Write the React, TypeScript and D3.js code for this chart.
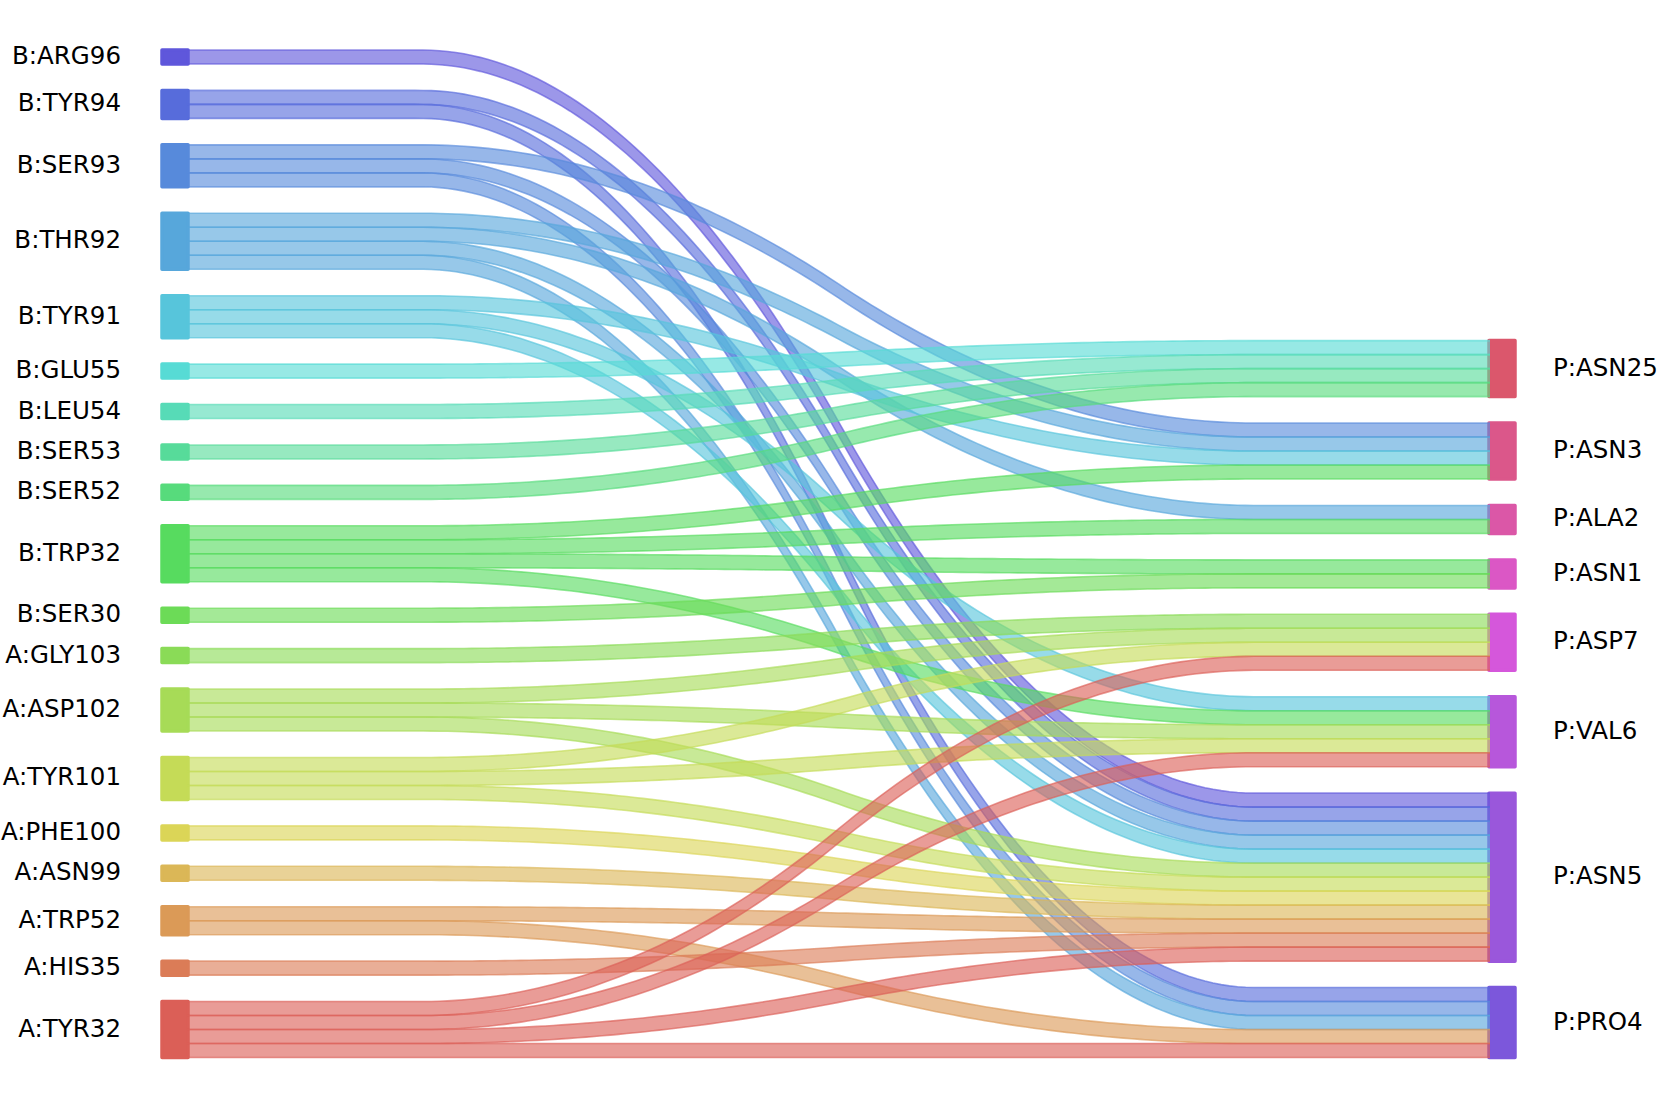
import React from 'react';
import * as d3 from 'd3';

// Left (source) residues, top to bottom
const leftNodes = [
  'B:ARG96', 'B:TYR94', 'B:SER93', 'B:THR92', 'B:TYR91', 'B:GLU55', 'B:LEU54',
  'B:SER53', 'B:SER52', 'B:TRP32', 'B:SER30', 'A:GLY103', 'A:ASP102', 'A:TYR101',
  'A:PHE100', 'A:ASN99', 'A:TRP52', 'A:HIS35', 'A:TYR32',
];
// Right (target) residues, top to bottom
const rightNodes = ['P:ASN25', 'P:ASN3', 'P:ALA2', 'P:ASN1', 'P:ASP7', 'P:VAL6', 'P:ASN5', 'P:PRO4'];

// Contacts (one unit each)
const linkSources = [
  'B:ARG96',
  'B:TYR94', 'B:TYR94',
  'B:SER93', 'B:SER93', 'B:SER93',
  'B:THR92', 'B:THR92', 'B:THR92', 'B:THR92',
  'B:TYR91', 'B:TYR91', 'B:TYR91',
  'B:GLU55', 'B:LEU54', 'B:SER53', 'B:SER52',
  'B:TRP32', 'B:TRP32', 'B:TRP32', 'B:TRP32',
  'B:SER30', 'A:GLY103',
  'A:ASP102', 'A:ASP102', 'A:ASP102',
  'A:TYR101', 'A:TYR101', 'A:TYR101',
  'A:PHE100', 'A:ASN99',
  'A:TRP52', 'A:TRP52',
  'A:HIS35',
  'A:TYR32', 'A:TYR32', 'A:TYR32', 'A:TYR32',
];
const linkTargets = [
  'P:ASN5',
  'P:ASN5', 'P:PRO4',
  'P:ASN3', 'P:ASN5', 'P:PRO4',
  'P:ASN3', 'P:ALA2', 'P:ASN5', 'P:PRO4',
  'P:ASN3', 'P:VAL6', 'P:ASN5',
  'P:ASN25', 'P:ASN25', 'P:ASN25', 'P:ASN25',
  'P:ASN3', 'P:ALA2', 'P:ASN1', 'P:VAL6',
  'P:ASN1', 'P:ASP7',
  'P:ASP7', 'P:VAL6', 'P:ASN5',
  'P:ASP7', 'P:VAL6', 'P:ASN5',
  'P:ASN5', 'P:ASN5',
  'P:ASN5', 'P:PRO4',
  'P:ASN5',
  'P:ASP7', 'P:VAL6', 'P:ASN5', 'P:PRO4',
];
const linkValues = linkSources.map(() => 1);

const W = 1660;
const H = 1108;
const UNIT = 14;
const GAP = 26.42;
const TOP = 50;
const LEFT_X0 = 162;
const LEFT_X1 = 188;
const RIGHT_X0 = 1489;
const RIGHT_X1 = 1515;
const LINK_X0 = 187;
const LINK_X1 = 1490;
const FONT = 24.5;

type NodeBox = { name: string; y0: number; y1: number; color: string };

function layoutColumn(names: string[], totals: Map<string, number>, top: number): NodeBox[] {
  const out: NodeBox[] = [];
  let y = top;
  names.forEach((n) => {
    const h = (totals.get(n) || 0) * UNIT;
    out.push({ name: n, y0: y, y1: y + h, color: '' });
    y += h + GAP;
  });
  return out;
}

export default function App() {
  const srcTot = new Map<string, number>();
  const tgtTot = new Map<string, number>();
  linkSources.forEach((s, i) => srcTot.set(s, (srcTot.get(s) || 0) + linkValues[i]));
  linkTargets.forEach((t, i) => tgtTot.set(t, (tgtTot.get(t) || 0) + linkValues[i]));

  const left = layoutColumn(leftNodes, srcTot, TOP);
  const leftBottom = left[left.length - 1].y1;
  const rightUnits = d3.sum(rightNodes, (n) => tgtTot.get(n) || 0);
  const rightTop = leftBottom - (rightUnits * UNIT + (rightNodes.length - 1) * GAP);
  const right = layoutColumn(rightNodes, tgtTot, rightTop);

  // hls palette (seaborn style), ordered from the bottom of each column
  const paletteOrder = [...leftNodes].reverse().concat([...rightNodes].reverse());
  const nPal = paletteOrder.length;
  const colorOf = new Map<string, string>();
  paletteOrder.forEach((n, i) => {
    const h = ((i / nPal + 0.01) % 1) * 360;
    colorOf.set(n, d3.hsl(h, 0.65, 0.6).formatHex());
  });
  left.forEach((b) => (b.color = colorOf.get(b.name)!));
  right.forEach((b) => (b.color = colorOf.get(b.name)!));

  const leftIdx = new Map(leftNodes.map((n, i) => [n, i]));
  const rightIdx = new Map(rightNodes.map((n, i) => [n, i]));
  const leftBox = new Map(left.map((b) => [b.name, b]));
  const rightBox = new Map(right.map((b) => [b.name, b]));

  const links = linkSources.map((s, i) => ({ s, t: linkTargets[i], v: linkValues[i], i, sy: 0, ty: 0 }));
  // stack at source by target order
  const srcOff = new Map<string, number>();
  [...links]
    .sort((a, b) => leftIdx.get(a.s)! - leftIdx.get(b.s)! || rightIdx.get(a.t)! - rightIdx.get(b.t)!)
    .forEach((l) => {
      const off = srcOff.get(l.s) || 0;
      l.sy = leftBox.get(l.s)!.y0 + off;
      srcOff.set(l.s, off + l.v * UNIT);
    });
  const tgtOff = new Map<string, number>();
  [...links]
    .sort((a, b) => rightIdx.get(a.t)! - rightIdx.get(b.t)! || leftIdx.get(a.s)! - leftIdx.get(b.s)!)
    .forEach((l) => {
      const off = tgtOff.get(l.t) || 0;
      l.ty = rightBox.get(l.t)!.y0 + off;
      tgtOff.set(l.t, off + l.v * UNIT);
    });

  const xScale = d3.scaleLinear().domain([0, 1]).range([LINK_X0, LINK_X1]);
  const tA = 0.18;
  const tB = 0.82;
  const ease = (p: number) => {
    const t = Math.max(0, Math.min(1, (p - tA) / (tB - tA)));
    return t < 0.5 ? 2 * t * t : 1 - 2 * (1 - t) * (1 - t);
  };
  const samples = d3.range(0, 1.0001, 1 / 160);

  const area = d3
    .area<[number, number, number]>()
    .x((d) => d[0])
    .y0((d) => d[1])
    .y1((d) => d[2]);
  const line = d3
    .line<[number, number]>()
    .x((d) => d[0])
    .y((d) => d[1]);

  return (
    <svg
      width={W}
      height={H}
      style={{ position: 'absolute', left: 0, top: 0, background: '#fff' }}
      fontFamily="'DejaVu Sans', sans-serif"
    >
      <g>
        {left.map((b) => (
          <rect
            key={b.name}
            x={LEFT_X0}
            y={b.y0}
            width={LEFT_X1 - LEFT_X0}
            height={b.y1 - b.y0}
            fill={b.color}
            stroke={b.color}
            strokeWidth={3.5}
            strokeLinejoin="round"
          />
        ))}
        {right.map((b) => (
          <rect
            key={b.name}
            x={RIGHT_X0}
            y={b.y0}
            width={RIGHT_X1 - RIGHT_X0}
            height={b.y1 - b.y0}
            fill={b.color}
            stroke={b.color}
            strokeWidth={3.5}
            strokeLinejoin="round"
          />
        ))}
      </g>
      <g>
        {links.map((l) => {
          const col = colorOf.get(l.s)!;
          const h = l.v * UNIT;
          const pts: [number, number, number][] = samples.map((p) => {
            const y = l.sy + (l.ty - l.sy) * ease(p);
            return [xScale(p), y, y + h];
          });
          return (
            <g key={l.i}>
              <path d={area(pts) || ''} fill={col} fillOpacity={0.62} />
              <path
                d={line(pts.map((d) => [d[0], d[1]] as [number, number])) || ''}
                fill="none"
                stroke={col}
                strokeOpacity={0.65}
                strokeWidth={1.6}
              />
              <path
                d={line(pts.map((d) => [d[0], d[2]] as [number, number])) || ''}
                fill="none"
                stroke={col}
                strokeOpacity={0.65}
                strokeWidth={1.6}
              />
            </g>
          );
        })}
      </g>
      <g fontSize={FONT} fill="#000">
        {left.map((b) => (
          <text key={b.name} x={121} y={(b.y0 + b.y1) / 2 + 7} textAnchor="end">
            {b.name}
          </text>
        ))}
        {right.map((b) => (
          <text key={b.name} x={1553} y={(b.y0 + b.y1) / 2 + 7} textAnchor="start">
            {b.name}
          </text>
        ))}
      </g>
    </svg>
  );
}
